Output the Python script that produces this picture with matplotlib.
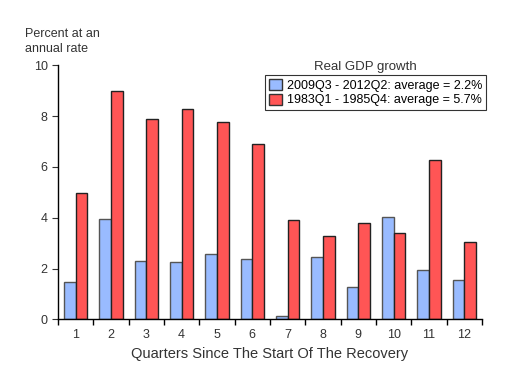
import numpy as np
import matplotlib
matplotlib.use("Agg")
import matplotlib.pyplot as plt
from matplotlib.patches import Patch

quarters = [str(i) for i in range(1, 13)]
recent = [1.48, 3.96, 2.31, 2.26, 2.57, 2.38, 0.13, 2.45, 1.29, 4.04, 1.95, 1.56]
early = [4.98, 9.0, 7.89, 8.29, 7.76, 6.91, 3.9, 3.27, 3.79, 3.38, 6.26, 3.05]
labels = ["2009Q3 - 2012Q2: average = 2.2%", "1983Q1 - 1985Q4: average = 5.7%"]

blue = "#99bbff"
red = "#ff5555"

plt.rcParams["font.family"] = ["Liberation Sans", "DejaVu Sans"]

fig = plt.figure(figsize=(5.12, 3.86), dpi=100)
ax = fig.add_axes([58 / 512, 1 - 319.3 / 386, 424 / 512, 254 / 386])

x = np.arange(1, len(quarters) + 1)
w = 0.33
ax.bar(x - w / 2, recent, w, color=blue, edgecolor="#555555", linewidth=1)
ax.bar(x + w / 2, early, w, color=red, edgecolor="#222222", linewidth=1)

ax.set_xlim(0.5, 12.5)
ax.set_ylim(0, 10)
ax.set_yticks(range(0, 11, 2))
ax.set_xticks(x)
ax.set_xticklabels(quarters)
ax.set_xticks(np.arange(0.5, 13, 1), minor=True)
ax.tick_params(axis="x", which="major", length=0, pad=7, labelsize=9, colors="#333333")
ax.tick_params(axis="x", which="minor", length=4, width=1)
ax.tick_params(axis="y", length=4, labelsize=9, colors="#333333")
for s in ["top", "right"]:
    ax.spines[s].set_visible(False)
ax.spines["left"].set_linewidth(1)
ax.spines["bottom"].set_linewidth(1)

ax.set_xlabel("Quarters Since The Start Of The Recovery", fontsize=10.5,
              color="#333333", labelpad=4)
fig.text(25 / 512, 1 - 28 / 386, "Percent at an\nannual rate", fontsize=9,
         va="top", ha="left", color="#333333", linespacing=1.3)

handles = [Patch(facecolor=blue, edgecolor="#333333"),
           Patch(facecolor=red, edgecolor="#333333")]
leg = fig.legend(handles, labels, loc="upper right",
                 bbox_to_anchor=(485.7 / 512, 1 - 75 / 386), borderaxespad=0,
                 fontsize=9, frameon=True, fancybox=False, handlelength=1.0,
                 handleheight=1.0, handletextpad=0.4, borderpad=0.3,
                 labelspacing=0.15)
leg.get_frame().set_edgecolor("black")
leg.get_frame().set_linewidth(0.8)
fig.text(365 / 512, 1 - 67 / 386, "Real GDP growth", fontsize=9.5,
         ha="center", va="center", color="#333333")

fig.savefig("out.png", dpi=100)
